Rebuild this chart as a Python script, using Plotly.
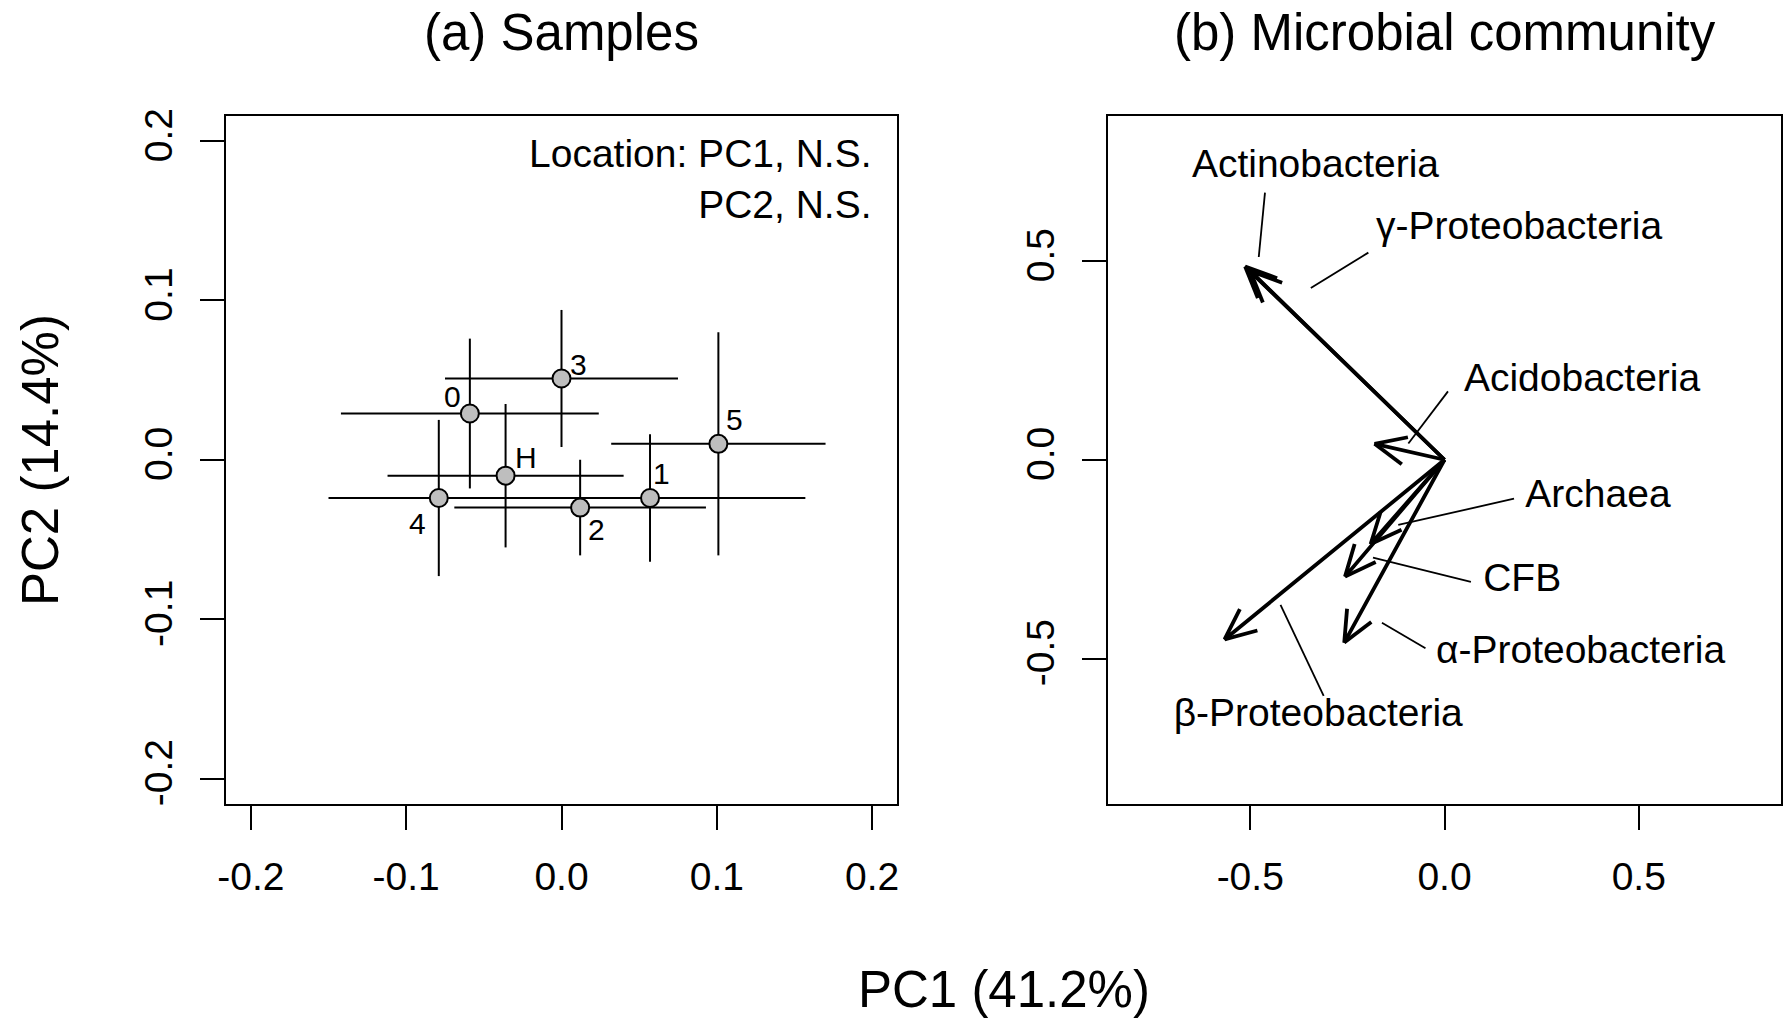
import numpy as np
import plotly.graph_objects as go

# ---- data ----
# (a) sample scores, mean +/- error
samples = ["0", "1", "2", "3", "4", "5", "H"]
pc1 = [-0.059, 0.057, 0.012, 0.000, -0.079, 0.101, -0.036]
pc2 = [0.029, -0.024, -0.030, 0.051, -0.024, 0.010, -0.010]
pc1_err = [0.083, 0.100, 0.081, 0.075, 0.071, 0.069, 0.076]
pc2_err = [0.047, 0.040, 0.030, 0.043, 0.049, 0.070, 0.045]

# (b) loadings of microbial groups
taxa = ["Actinobacteria", "γ-Proteobacteria", "Acidobacteria", "Archaea",
        "CFB", "α-Proteobacteria", "β-Proteobacteria"]
load1 = [-0.513, -0.500, -0.180, -0.190, -0.256, -0.258, -0.566]
load2 = [0.486, 0.475, 0.040, -0.212, -0.294, -0.460, -0.452]
lab_x = [-0.332, 0.192, 0.354, 0.395, 0.200, 0.350, -0.325]
lab_y = [0.736, 0.580, 0.197, -0.095, -0.306, -0.487, -0.645]
lead_x0 = [-0.462, -0.196, 0.009, 0.179, 0.068, -0.049, -0.311]
lead_y0 = [0.672, 0.521, 0.172, -0.098, -0.307, -0.474, -0.594]
lead_x1 = [-0.478, -0.344, -0.093, -0.119, -0.184, -0.161, -0.422]
lead_y1 = [0.510, 0.432, 0.041, -0.164, -0.246, -0.410, -0.365]

ticks_a = [-0.2, -0.1, 0.0, 0.1, 0.2]
ticktext_a = ["-0.2", "-0.1", "0.0", "0.1", "0.2"]
ticks_b = [-0.5, 0.0, 0.5]
ticktext_b = ["-0.5", "0.0", "0.5"]

# label offsets (px) of the sample numbers around their points
label_shift = [(-17, 17), (11, 25), (16, -22), (17, 14),
               (-21, -25), (16, 24), (20, 18)]

W, H = 1791, 1026
FONT = "Liberation Sans, Arial, Helvetica, sans-serif"


def px(x):
    return x / W


def py(y):
    return 1 - y / H


# panel boxes in page pixels
ax_a = (226, 897)
ax_b = (1108, 1781)
ay = (115.5, 804)
rng_a = 0.216
rng_b = 0.866

fig = go.Figure()

# (a) points with cross error bars
fig.add_trace(go.Scatter(
    x=pc1, y=pc2, mode="markers",
    marker=dict(size=18, color="#BEBEBE", line=dict(color="black", width=2)),
    error_x=dict(type="data", array=pc1_err, width=0, thickness=2, color="black"),
    error_y=dict(type="data", array=pc2_err, width=0, thickness=2, color="black"),
    xaxis="x", yaxis="y", showlegend=False, cliponaxis=False))

# (b) arrows, heads built in pixel space so they keep their shape
sx = (ax_b[1] - ax_b[0]) / (2 * rng_b)
sy = (ay[1] - ay[0]) / (2 * rng_b)
hl, ha = 34, np.radians(24)
arr_x, arr_y = [], []
for x, y in zip(load1, load2):
    dx, dy = x * sx, y * sy
    n = np.hypot(dx, dy)
    bx, by = -dx / n, -dy / n
    h = []
    for a in (ha, -ha):
        rx = bx * np.cos(a) - by * np.sin(a)
        ry = bx * np.sin(a) + by * np.cos(a)
        h.append((x + hl * rx / sx, y + hl * ry / sy))
    arr_x += [0, x, h[0][0], None, h[1][0], x, None]
    arr_y += [0, y, h[0][1], None, h[1][1], y, None]

fig.add_trace(go.Scatter(x=arr_x, y=arr_y, mode="lines",
                         line=dict(color="black", width=3.8),
                         xaxis="x2", yaxis="y2", showlegend=False))

ld_x, ld_y = [], []
for a, b, c, d in zip(lead_x0, lead_y0, lead_x1, lead_y1):
    ld_x += [a, c, None]
    ld_y += [b, d, None]
fig.add_trace(go.Scatter(x=ld_x, y=ld_y, mode="lines",
                         line=dict(color="black", width=1.8),
                         xaxis="x2", yaxis="y2", showlegend=False))

fig.add_trace(go.Scatter(x=lab_x, y=lab_y, mode="text", text=taxa,
                         textposition="middle center",
                         textfont=dict(size=39, color="black", family=FONT),
                         xaxis="x2", yaxis="y2", showlegend=False))

axis_style = dict(showline=True, mirror=True, linecolor="black", linewidth=2,
                  ticks="outside", ticklen=24, tickwidth=2, tickcolor="black",
                  showgrid=False, zeroline=False, automargin=False,
                  tickfont=dict(size=39, color="black", family=FONT))

ydom = [py(ay[1]), py(ay[0])]
fig.update_layout(
    width=W, height=H, margin=dict(l=0, r=0, t=0, b=0, pad=0, autoexpand=False),
    paper_bgcolor="white", plot_bgcolor="white",
    font=dict(family=FONT, color="black"),
    xaxis=dict(domain=[px(ax_a[0]), px(ax_a[1])], range=[-rng_a, rng_a],
               tickvals=ticks_a, ticktext=ticktext_a, ticklabelstandoff=13,
               anchor="y", **axis_style),
    yaxis=dict(domain=ydom, range=[-rng_a, rng_a], tickvals=ticks_a,
               ticktext=ticktext_a, tickangle=-90, ticklabelstandoff=12,
               anchor="x", **axis_style),
    xaxis2=dict(domain=[px(ax_b[0]), px(ax_b[1])], range=[-rng_b, rng_b],
                tickvals=ticks_b, ticktext=ticktext_b, ticklabelstandoff=13,
                anchor="y2", **axis_style),
    yaxis2=dict(domain=ydom, range=[-rng_b, rng_b], tickvals=ticks_b,
                ticktext=ticktext_b, tickangle=-90, ticklabelstandoff=12,
                anchor="x2", **axis_style),
)

ann = [
    dict(text="(a) Samples", x=px((ax_a[0] + ax_a[1]) / 2), y=py(32),
         font=dict(size=51)),
    dict(text="(b) Microbial community", x=px((ax_b[0] + ax_b[1]) / 2),
         y=py(32), font=dict(size=51)),
    dict(text="PC2 (14.4%)", x=px(40), y=py(460), textangle=-90,
         font=dict(size=51)),
    dict(text="PC1 (41.2%)", x=px(1004), y=py(989), font=dict(size=51)),
]
for a in ann:
    a.update(xref="paper", yref="paper", xanchor="center", yanchor="middle",
             showarrow=False)

ann.append(dict(text="Location: PC1, N.S.<br>PC2, N.S.", x=0.2015, y=0.207,
                xref="x", yref="y", xanchor="right", yanchor="top",
                align="right", showarrow=False, font=dict(size=39)))

for s, x, y, (dx, dy) in zip(samples, pc1, pc2, label_shift):
    ann.append(dict(text=s, x=x, y=y, xref="x", yref="y", xshift=dx,
                    yshift=dy, xanchor="center", yanchor="middle",
                    showarrow=False, font=dict(size=30)))

fig.update_layout(annotations=ann)

# drop the default 8px body margin so the figure fills the window exactly
fig.write_html("out.html", config={"displayModeBar": False},
               post_script="document.body.style.margin='0px';")
